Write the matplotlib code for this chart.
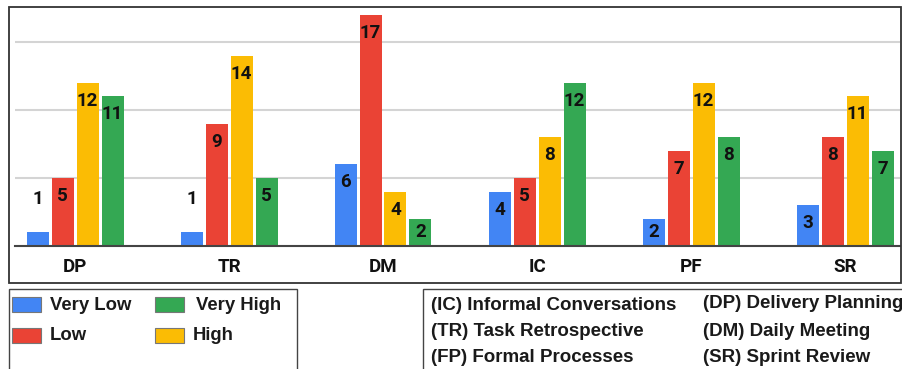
import matplotlib
matplotlib.use("Agg")
import matplotlib.pyplot as plt
import numpy as np
from matplotlib.patches import Rectangle

# dados
categorias = ["DP", "TR", "DM", "IC", "PF", "SR"]
niveis = ["Very Low", "Low", "High", "Very High"]
very_low = [1, 1, 6, 4, 2, 3]
low = [5, 9, 17, 5, 7, 8]
high = [12, 14, 4, 8, 12, 11]
very_high = [11, 5, 2, 12, 8, 7]
series = [very_low, low, high, very_high]
cores = ["#4285F4", "#EA4335", "#FBBC04", "#34A853"]

siglas_col1 = ["(IC) Informal Conversations", "(TR) Task Retrospective", "(FP) Formal Processes"]
siglas_col2 = ["(DP) Delivery Planning", "(DM) Daily Meeting", "(SR) Sprint Review"]

W, H = 903, 369
fig = plt.figure(figsize=(W / 100, H / 100), dpi=100)

def fx(px):
    return px / W

def fy(py):
    return 1 - py / H

# -------------------------------------------------------
# Gráfico de barras

ax = fig.add_axes([fx(15), fy(246), fx(900) - fx(15), fy(8) - fy(246)])
x = np.arange(len(categorias))
passo = 25 / 154
largura = 22 / 154
for i in range(4):
    pos = x + (i - 1.5) * passo
    ax.bar(pos, series[i], width=largura, color=cores[i], zorder=3)
    for xi, v in zip(pos, series[i]):
        if v >= 2:
            yl = max(v - 1.32, 1.0)
        else:
            yl = v + 2.45
        ax.text(xi, yl, str(v), ha="center", va="center", fontsize=13.5,
                family="Roboto", weight="bold", color="#111111", zorder=4)

ax.set_xlim(-60 / 154, 825 / 154)
ax.set_ylim(0, 17.5)
ax.set_yticks([5, 10, 15])
ax.yaxis.grid(True, color="#d4d4d4", linewidth=1.5, zorder=0)
ax.tick_params(axis="y", left=False, labelleft=False)
ax.set_xticks(x)
ax.set_xticklabels(categorias, fontsize=13.5, family="Roboto", weight="bold", color="#111111")
ax.tick_params(axis="x", length=0, pad=8.5)
for s in ["top", "right", "left"]:
    ax.spines[s].set_visible(False)
ax.spines["bottom"].set_color("#444444")
ax.spines["bottom"].set_linewidth(1.5)
ax.spines["bottom"].set_zorder(5)

# moldura do gráfico
fig.patches.append(Rectangle((fx(9), fy(283)), fx(901) - fx(9), fy(7) - fy(283),
                             transform=fig.transFigure, fill=False,
                             edgecolor="#333333", linewidth=1.3))

# -------------------------------------------------------
# Legenda de cores

fig.patches.append(Rectangle((fx(9), fy(380)), fx(297) - fx(9), fy(289) - fy(380),
                             transform=fig.transFigure, fill=False,
                             edgecolor="#444444", linewidth=1.0))
sw_x = [12, 12, 155, 155]
sw_y = [297, 328, 328, 297]
tx_x = [50, 50, 193, 196]
for i in range(4):
    fig.patches.append(Rectangle((fx(sw_x[i]), fy(sw_y[i] + 15)), fx(29), 15 / H,
                                 transform=fig.transFigure, facecolor=cores[i],
                                 edgecolor="#777777", linewidth=0.8))
    fig.text(fx(tx_x[i]), fy(sw_y[i] + 8), niveis[i], fontsize=13.3, weight="bold",
             family="Liberation Sans", color="#1a1a1a", va="center", ha="left")

# -------------------------------------------------------
# Legenda das siglas

fig.patches.append(Rectangle((fx(423), fy(380)), fx(930) - fx(423), fy(289) - fy(380),
                             transform=fig.transFigure, fill=False,
                             edgecolor="#444444", linewidth=1.0))
linhas1 = [306, 331, 357]
linhas2 = [303, 331, 357]
for i in range(3):
    fig.text(fx(431), fy(linhas1[i]), siglas_col1[i], fontsize=13.5, weight="bold",
             family="Liberation Sans", color="#1a1a1a", va="center", ha="left")
    fig.text(fx(703), fy(linhas2[i]), siglas_col2[i], fontsize=13.5, weight="bold",
             family="Liberation Sans", color="#1a1a1a", va="center", ha="left")

fig.savefig("out.png", dpi=100)
